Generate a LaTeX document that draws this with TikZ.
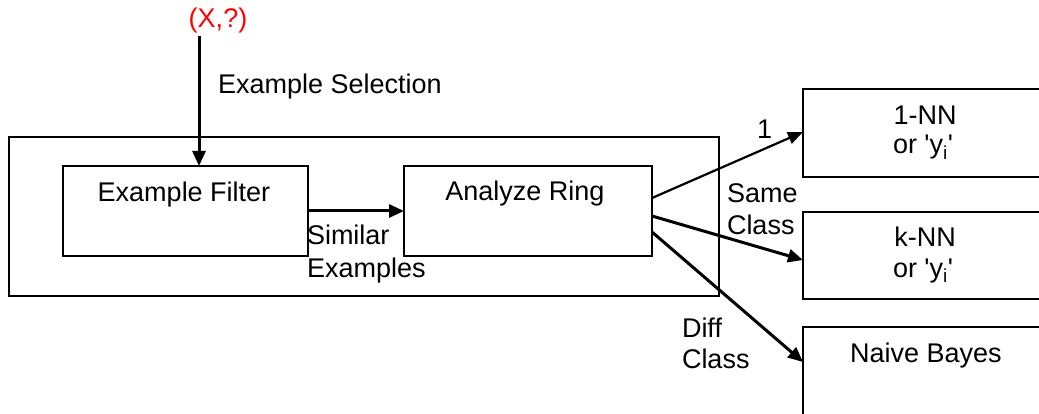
\documentclass[tikz,border=0pt]{standalone}
\usepackage{fontspec}
\setmainfont{Liberation Sans}
\usetikzlibrary{arrows.meta}
\begin{document}
\begin{tikzpicture}[x=1pt,y=-1pt,
  every node/.style={inner sep=0pt, outer sep=0pt, font=\fontsize{27}{32}\selectfont},
  frame/.style={draw, line width=1.3pt, rectangle},
  flow/.style={line width=3pt, -{Triangle[length=15pt,width=13pt]}},
  thinflow/.style={line width=2.2pt, -{Triangle[length=15pt,width=12pt]}},
  lbl/.style={anchor=base west},
  clbl/.style={anchor=base}]
\useasboundingbox (0,0) rectangle (1039,414);
\clip (0,0) rectangle (1039,414);

% enclosing module
\node[frame, minimum width=710, minimum height=159] (outer) at (364,216.5) {};
% inner stages
\node[frame, minimum width=245, minimum height=90] (filter) at (185.5,211) {};
\node[frame, minimum width=248, minimum height=90] (ring) at (528,211) {};
% classifiers
\node[frame, minimum width=244, minimum height=88] (nn1) at (925,133) {};
\node[frame, minimum width=244, minimum height=87] (knn) at (925,255.5) {};
\node[frame, minimum width=244, minimum height=90] (nb) at (925,372) {};

% query input
\node[clbl, red] (query) at (218,28) {(X,?)};
\coordinate (src) at (199,36);
\draw[flow] (src) -- (src |- filter.north);
\node[lbl] (sel) at (218,94) {Example Selection};

% stage texts
\node[clbl] (filtertxt) at (184,202) {Example Filter};
\node[clbl] (ringtxt) at (525,201) {Analyze Ring};
\node[clbl] (nn1a) at (925,125) {1-NN};
\node[clbl] (nn1b) at (923,154) {or \textquotesingle y\textsubscript{i}\textquotesingle};
\node[clbl] (knna) at (925,247) {k-NN};
\node[clbl] (knnb) at (923,277) {or \textquotesingle y\textsubscript{i}\textquotesingle};
\node[clbl] (nbtxt) at (926,362) {Naive Bayes};

% connectors
\draw[flow] (filter.east) -- (ring.west);
\node[lbl] (sim1) at (307,244) {Similar};
\node[lbl] (sim2) at (307,277) {Examples};

\draw[thinflow] ([yshift=13pt]ring.east) -- ([yshift=1pt]nn1.west);
\draw[flow] ([yshift=-5pt]ring.east) -- ([yshift=-4.5pt]knn.west);
\draw[flow] ([yshift=-21pt]ring.east) -- ([yshift=-35pt]nb.north west);

\node[lbl] (one) at (757,139) {1};
\node[lbl] (same1) at (727,203) {Same};
\node[lbl] (same2) at (727,235) {Class};
\node[lbl] (diff1) at (682,337) {Diff};
\node[lbl] (diff2) at (682,368) {Class};
\end{tikzpicture}
\end{document}
